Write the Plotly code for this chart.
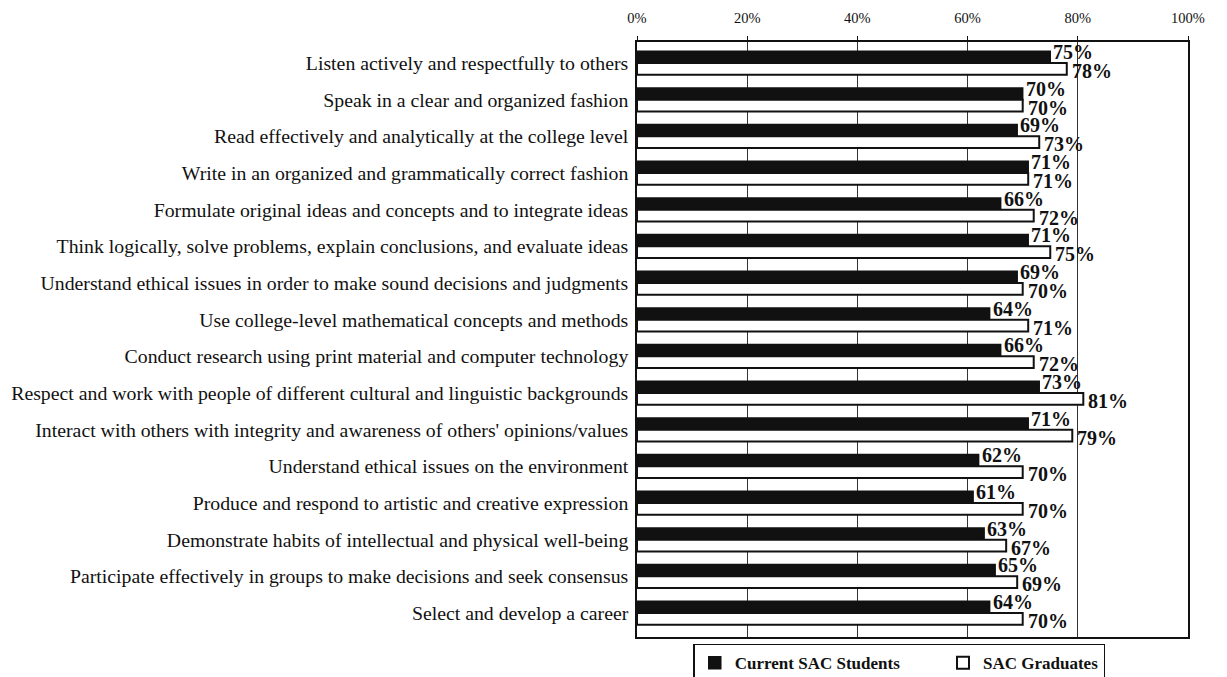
import plotly.graph_objects as go

categories = [
    "Listen actively and respectfully to others",
    "Speak in a clear and organized fashion",
    "Read effectively and analytically at the college level",
    "Write in an organized and grammatically correct fashion",
    "Formulate original ideas and concepts and to integrate ideas",
    "Think logically, solve problems, explain conclusions, and evaluate ideas",
    "Understand ethical issues in order to make sound decisions and judgments",
    "Use college-level mathematical concepts and methods",
    "Conduct research using print material and computer technology",
    "Respect and work with people of different cultural and linguistic backgrounds",
    "Interact with others with integrity and awareness of others' opinions/values",
    "Understand ethical issues on the environment",
    "Produce and respond to artistic and creative expression",
    "Demonstrate habits of intellectual and physical well-being",
    "Participate effectively in groups to make decisions and seek consensus",
    "Select and develop a career",
]
current_students = [75, 70, 69, 71, 66, 71, 69, 64, 66, 73, 71, 62, 61, 63, 65, 64]
graduates = [78, 70, 73, 71, 72, 75, 70, 71, 72, 81, 79, 70, 70, 67, 69, 70]
tick_vals = [0, 20, 40, 60, 80, 100]
tick_text = ["0%", "20%", "40%", "60%", "80%", "100%"]

label_font = dict(family="Liberation Serif", size=20, color="#111111")

fig = go.Figure()
fig.add_trace(go.Bar(
    y=categories, x=current_students, orientation="h",
    name="<b>Current SAC Students</b>" + "\u00a0" * 9,
    marker=dict(color="#111111", line=dict(color="#111111", width=1.5)),
    textposition="none",
))
fig.add_trace(go.Bar(
    y=categories, x=graduates, orientation="h",
    name="<b>SAC Graduates</b>",
    marker=dict(color="white", line=dict(color="#111111", width=2)),
    textposition="none",
))

# value labels
for cat, v in zip(categories, current_students):
    fig.add_annotation(x=v, y=cat, text=f"<b>{v}%</b>", showarrow=False,
                       xanchor="left", yanchor="middle", xshift=1, yshift=11,
                       font=label_font)
for cat, v in zip(categories, graduates):
    fig.add_annotation(x=v, y=cat, text=f"<b>{v}%</b>", showarrow=False,
                       xanchor="left", yanchor="middle", xshift=3, yshift=-8,
                       font=label_font)

fig.update_layout(
    width=1227, height=677,
    barmode="group", bargap=0.36, bargroupgap=0.0,
    paper_bgcolor="white", plot_bgcolor="white",
    margin=dict(l=629, r=47, t=34, b=48),
    font=dict(family="Liberation Serif", color="#111111"),
    showlegend=True,
    legend=dict(
        orientation="h", x=0.476, xanchor="center",
        yref="container", y=0.061, yanchor="top",
        bordercolor="#111111", borderwidth=1.5, bgcolor="white",
        font=dict(family="Liberation Serif", size=17, color="#111111"),
        itemwidth=30, traceorder="normal", valign="top",
    ),
)
fig.update_xaxes(
    range=[0, 100], side="top", tickvals=tick_vals, ticktext=tick_text,
    tickfont=dict(family="Liberation Serif", size=14.5, color="#111111"),
    showgrid=True, gridcolor="#333333", gridwidth=1,
    showline=True, linecolor="#111111", linewidth=1.5, mirror=True,
    ticks="outside", ticklen=4, tickcolor="#111111", zeroline=False,
    tickprefix="<b>", ticksuffix="</b>", ticklabelstandoff=7,
    automargin=False,
)
fig.update_yaxes(
    autorange="reversed",
    tickfont=dict(family="Liberation Serif", size=19.8, color="#111111"),
    showline=True, linecolor="#111111", linewidth=1.5, mirror=True,
    ticks="", ticklabelstandoff=3, automargin=False,
)

fig.write_html("out.html")
